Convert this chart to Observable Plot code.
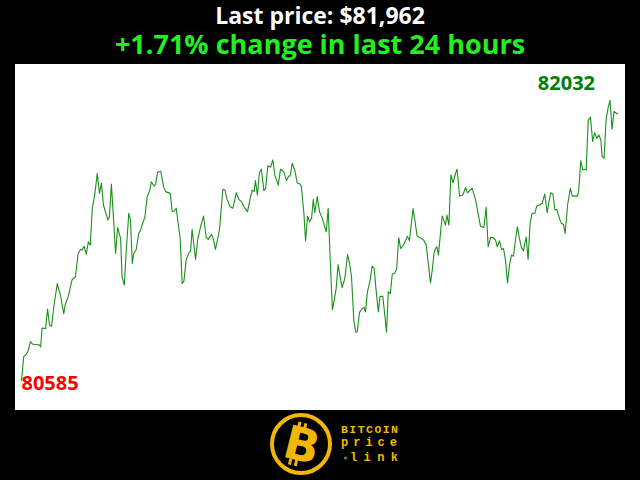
<!DOCTYPE html>
<html>
<head>
<meta charset="utf-8">
<script src="https://cdn.jsdelivr.net/npm/d3@7"></script>
<script src="https://cdn.jsdelivr.net/npm/@observablehq/plot@0.6"></script>
<style>
  html, body { margin: 0; padding: 0; background: #000; width: 640px; height: 480px; overflow: hidden; }
  #title { position: absolute; left: 0; top: 1px; width: 640px; text-align: center; color: #fff;
           font-family: "Open Sans", sans-serif; font-weight: 700; font-size: 23px; line-height: 29px; }
  #subtitle { position: absolute; left: 0; top: 30px; width: 640px; text-align: center; color: #22ee22;
           font-family: "Open Sans", sans-serif; font-weight: 700; font-size: 27px; line-height: 28px; }
  #chart { position: absolute; left: 15px; top: 64px; }
  #logo { position: absolute; left: 268px; top: 412px; }
</style>
</head>
<body>
<div id="title"></div>
<div id="subtitle"></div>
<div id="chart"></div>
<svg id="logo" width="140" height="66" viewBox="0 0 140 66">
  <circle cx="33" cy="32" r="29" fill="#000" stroke="#f2b705" stroke-width="4"/>
  <g transform="translate(34,33) rotate(14)">
    <text x="0" y="16" text-anchor="middle" font-family="DejaVu Sans, sans-serif" font-weight="900" font-size="46" fill="#f2b705">B</text>
    <rect x="-9" y="-22" width="3" height="6" fill="#f2b705"/>
    <rect x="-3" y="-22" width="3" height="6" fill="#f2b705"/>
    <rect x="-9" y="16" width="3" height="6" fill="#f2b705"/>
    <rect x="-3" y="16" width="3" height="6" fill="#f2b705"/>
  </g>
  <text x="73" y="21" textLength="57" lengthAdjust="spacing" font-family="Liberation Mono, monospace" font-weight="700" font-size="11.5" fill="#f2b705">BITCOIN</text>
  <text x="73" y="34" textLength="56" lengthAdjust="spacing" font-family="Liberation Mono, monospace" font-weight="700" font-size="12" fill="#f2b705">price</text>
  <circle cx="77.5" cy="46" r="1.6" fill="#22aa22"/>
  <text x="82" y="49" textLength="48" lengthAdjust="spacing" font-family="Liberation Mono, monospace" font-weight="700" font-size="12" fill="#f2b705">link</text>
</svg>
<script>
// ---- Data (hours since start, BTC price in USD) ----
const titleText = "Last price: $81,962";
const subtitleText = "+1.71% change in last 24 hours";

const hours = [
  0.00, 0.09, 0.19, 0.27, 0.36, 0.46, 0.70, 0.77, 0.83, 0.97,
  1.05, 1.13, 1.21, 1.30, 1.44, 1.57, 1.70, 1.77, 1.88, 2.04,
  2.17, 2.28, 2.38, 2.44, 2.52, 2.61, 2.69, 2.77, 2.85, 2.95,
  3.05, 3.14, 3.22, 3.30, 3.38, 3.48, 3.54, 3.62, 3.70, 3.79,
  3.87, 3.99, 4.05, 4.14, 4.22, 4.32, 4.39, 4.46, 4.52, 4.62,
  4.72, 4.79, 4.97, 5.06, 5.15, 5.23, 5.33, 5.40, 5.48, 5.61,
  5.72, 5.80, 5.99, 6.07, 6.15, 6.23, 6.39, 6.47, 6.54, 6.63,
  6.74, 6.81, 6.87, 7.01, 7.09, 7.21, 7.33, 7.44, 7.52, 7.65,
  7.73, 7.81, 7.97, 8.11, 8.19, 8.28, 8.40, 8.51, 8.65, 8.75,
  8.86, 8.97, 9.10, 9.21, 9.29, 9.37, 9.42, 9.50, 9.58, 9.66,
  9.76, 9.83, 9.92, 10.03, 10.12, 10.20, 10.34, 10.43, 10.56, 10.67,
  10.76, 10.82, 10.90, 11.01, 11.10, 11.21, 11.27, 11.37, 11.44, 11.52,
  11.60, 11.68, 11.75, 11.81, 11.91, 12.00, 12.11, 12.27, 12.35, 12.44,
  12.52, 12.62, 12.67, 12.75, 12.83, 12.91, 13.02, 13.13, 13.21, 13.29,
  13.38, 13.46, 13.52, 13.61, 13.72, 13.80, 13.85, 13.93, 14.04, 14.12,
  14.20, 14.28, 14.37, 14.44, 14.55, 14.70, 14.77, 14.85, 14.93, 15.03,
  15.11, 15.19, 15.27, 15.38, 15.46, 15.54, 15.62, 15.69, 15.77, 15.85,
  15.93, 16.07, 16.20, 16.30, 16.38, 16.47, 16.54, 16.61, 16.67, 16.73,
  16.79, 16.87, 16.94, 17.01, 17.07, 17.13, 17.21, 17.29, 17.38, 17.48,
  17.54, 17.64, 17.77, 17.88, 17.96, 18.04, 18.15, 18.28, 18.35, 18.48,
  18.62, 18.71, 18.79, 18.89, 18.98, 19.09, 19.16, 19.25, 19.33, 19.41,
  19.49, 19.57, 19.65, 19.73, 19.81, 19.89, 19.97, 20.05, 20.13, 20.21,
  20.32, 20.40, 20.48, 20.56, 20.67, 20.75, 20.86, 20.97, 21.07, 21.17,
  21.23, 21.31, 21.40, 21.48, 21.56, 21.66, 21.74, 21.82, 21.89, 21.99,
  22.10, 22.18, 22.39, 22.44, 22.52, 22.60, 22.68, 22.74, 22.82, 22.91,
  23.00, 23.08, 23.17, 23.25, 23.33, 23.38, 23.46, 23.54, 23.62, 23.70,
  23.78, 23.86, 24.00
];

const prices = [
  80585, 80709, 80720, 80740, 80786, 80772, 80770, 80758, 80856, 80853,
  80954, 80870, 80865, 80965, 81086, 81025, 80931, 80982, 81017, 81107,
  81120, 81241, 81262, 81259, 81279, 81238, 81302, 81284, 81475, 81544,
  81656, 81552, 81604, 81492, 81457, 81414, 81431, 81600, 81431, 81241,
  81376, 81319, 81120, 81077, 81259, 81449, 81414, 81190, 81241, 81262,
  81345, 81362, 81431, 81535, 81561, 81612, 81590, 81599, 81661, 81666,
  81587, 81561, 81552, 81457, 81461, 81475, 81319, 81086, 81098, 81207,
  81245, 81253, 81366, 81210, 81310, 81379, 81435, 81324, 81314, 81340,
  81314, 81262, 81362, 81573, 81569, 81521, 81483, 81475, 81555, 81521,
  81509, 81480, 81457, 81526, 81569, 81561, 81618, 81544, 81659, 81677,
  81566, 81578, 81695, 81687, 81725, 81647, 81595, 81677, 81664, 81618,
  81642, 81642, 81708, 81669, 81607, 81600, 81587, 81449, 81307, 81435,
  81405, 81423, 81521, 81452, 81535, 81457, 81423, 81353, 81475, 81181,
  80951, 81020, 81060, 81184, 81120, 81065, 81112, 81236, 81190, 81120,
  80896, 80834, 80836, 80937, 80957, 80962, 80939, 81043, 81103, 81176,
  81164, 81051, 80939, 81020, 81020, 80834, 81043, 81034, 81134, 81141,
  81164, 81324, 81267, 81284, 81307, 81331, 81307, 81388, 81473, 81405,
  81331, 81322, 81310, 81284, 81190, 81089, 81155, 81241, 81267, 81276,
  81233, 81345, 81435, 81410, 81388, 81440, 81388, 81647, 81607, 81656,
  81677, 81538, 81544, 81581, 81555, 81566, 81578, 81521, 81475, 81383,
  81376, 81480, 81276, 81324, 81324, 81310, 81276, 81307, 81262, 81267,
  81207, 81089, 81181, 81233, 81227, 81310, 81379, 81319, 81273, 81255,
  81327, 81210, 81397, 81449, 81449, 81487, 81492, 81501, 81549, 81452,
  81501, 81555, 81549, 81466, 81469, 81423, 81397, 81393, 81345, 81492,
  81578, 81538, 81538, 81569, 81721, 81673, 81677, 81673, 81928, 81946,
  81820, 81866, 81837, 81854, 81828, 81742, 81734, 81932, 81993, 82032,
  81884, 81975, 81962
];

const series = hours.map((h, i) => ({h, p: prices[i]}));
const minPt = series.reduce((a, b) => (b.p < a.p ? b : a));
const maxPt = series.reduce((a, b) => (b.p > a.p ? b : a));

document.getElementById("title").textContent = titleText;
document.getElementById("subtitle").textContent = subtitleText;

const chart = Plot.plot({
  width: 610,
  height: 346,
  marginLeft: 6,
  marginRight: 8,
  marginTop: 36,
  marginBottom: 30,
  style: {background: "#fff", fontFamily: "Open Sans, sans-serif"},
  x: {domain: [0, 24], axis: null},
  y: {domain: [d3.min(prices), d3.max(prices)], axis: null},
  marks: [
    Plot.line(series, {x: "h", y: "p", stroke: "#1c8f1c", strokeWidth: 1.1}),
    Plot.text([minPt], {x: "h", y: "p", text: d => String(d.p), fill: "#ff0000",
      textAnchor: "start", dy: 3, fontSize: 20, fontWeight: "bold"}),
    Plot.text([maxPt], {x: "h", y: "p", text: d => String(d.p), fill: "#008000",
      textAnchor: "end", dx: -15, dy: -17, fontSize: 20, fontWeight: "bold"})
  ]
});
document.getElementById("chart").appendChild(chart);
</script>
</body>
</html>
